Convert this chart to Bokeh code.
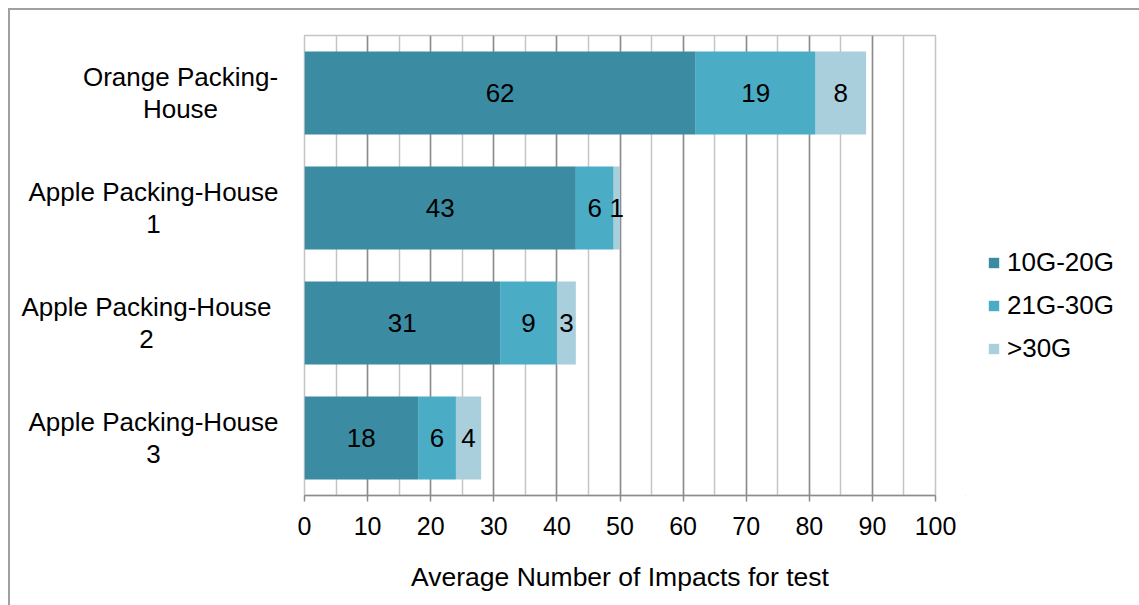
import numpy as np
from bokeh.plotting import figure
from bokeh.layouts import row
from bokeh.models import ColumnDataSource, Range1d, SingleIntervalTicker, Legend, LegendItem
from bokeh.core.properties import value
from bokeh.embed import file_html
from bokeh.resources import INLINE

categories = ["Orange Packing-\nHouse", "Apple Packing-House\n1", "Apple Packing-House\n2", "Apple Packing-House\n3"]
series_names = ["10G-20G", "21G-30G", ">30G"]
g10_20 = [62, 43, 31, 18]
g21_30 = [19, 6, 9, 6]
g30p = [8, 1, 3, 4]
colors = ["#3b8ca2", "#4bacc6", "#a9cfdd"]
label_centers_px = [170, 143, 136, 143]

FONT = "Liberation Sans"
H = 595
TOP = 25
BOTTOM = 110
n = len(categories)
ypos = [n - 1 - i for i in range(n)]  # top to bottom
yr = Range1d(-0.5, n - 0.5)

# ---- category label panel ----
lab = figure(width=274, height=H, output_backend="svg", toolbar_location=None,
             x_range=Range1d(0, 274), y_range=yr,
             min_border_left=0, min_border_right=0, min_border_top=TOP, min_border_bottom=BOTTOM)
lab.axis.visible = False
lab.grid.visible = False
lab.outline_line_color = None
lab.text(x=label_centers_px, y=ypos, text=categories, text_align="center", text_baseline="middle",
         text_font=value(FONT), text_font_size="26px", text_color="#000000", text_line_height=1.05)

# ---- main chart ----
src = ColumnDataSource(dict(y=ypos, a=g10_20, b=g21_30, c=g30p))
p = figure(width=681, height=H, output_backend="svg", toolbar_location=None,
           x_range=Range1d(0, 100), y_range=yr,
           min_border_left=20, min_border_top=TOP, min_border_right=30, min_border_bottom=BOTTOM)
renderers = p.hbar_stack(["a", "b", "c"], y="y", height=0.72, color=colors, line_color=None, source=src)

vals = np.array([g10_20, g21_30, g30p], dtype=float)
cum = np.cumsum(vals, axis=0)
starts = cum - vals
for k in range(3):
    p.text(x=list(starts[k] + vals[k] / 2), y=ypos, text=[str(int(v)) for v in vals[k]],
           text_align="center", text_baseline="middle", text_font=value(FONT),
           text_font_size="26px", text_color="#000000")

p.yaxis.visible = False
p.ygrid.visible = False
ticker = SingleIntervalTicker(interval=10, num_minor_ticks=2)
p.xaxis.ticker = ticker
p.xgrid.ticker = ticker
p.xgrid.grid_line_color = "#8c8c8c"
p.xgrid.grid_line_width = 1.5
p.xgrid.minor_grid_line_color = "#c4c4c4"
p.xgrid.minor_grid_line_width = 1.5
p.xaxis.axis_line_color = "#8c8c8c"
p.xaxis.axis_line_width = 1.5
p.xaxis.major_tick_line_color = "#8c8c8c"
p.xaxis.major_tick_line_width = 1.5
p.xaxis.major_tick_out = 6
p.xaxis.major_tick_in = 0
p.xaxis.minor_tick_line_color = None
p.xaxis.major_label_text_font = FONT
p.xaxis.major_label_text_font_size = "25px"
p.xaxis.major_label_text_color = "#000000"
p.xaxis.major_label_standoff = 15
p.xaxis.axis_label = "Average Number of Impacts for test"
p.xaxis.axis_label_text_font = FONT
p.xaxis.axis_label_text_font_size = "26.5px"
p.xaxis.axis_label_text_font_style = "normal"
p.xaxis.axis_label_text_color = "#000000"
p.xaxis.axis_label_standoff = 24
p.outline_line_color = "#c4c4c4"
p.outline_line_width = 1.5

# ---- legend panel ----
lg = figure(width=174, height=H, output_backend="svg", toolbar_location=None,
            x_range=Range1d(0, 1), y_range=Range1d(0, 1),
            min_border_left=0, min_border_right=0, min_border_top=0, min_border_bottom=0)
lg.axis.visible = False
lg.grid.visible = False
lg.outline_line_color = None
dummies = [lg.hbar(y=[-10], right=[-10], left=[-11], height=0.5, color=colors[k], line_color=None)
           for k in range(3)]
legend = Legend(items=[LegendItem(label=series_names[k], renderers=[dummies[k]]) for k in range(3)],
                location=(22, 131), label_text_font=FONT, label_text_font_size="26px",
                label_text_color="#000000", label_height=26,
                glyph_width=13, glyph_height=13, spacing=12, border_line_color=None,
                background_fill_alpha=0, margin=0, padding=0, label_standoff=7)
lg.add_layout(legend)

layout = row(lab, p, lg, spacing=0,
             styles={"margin-left": "8px", "margin-top": "8px",
                     "border-left": "2px solid #a0a0a0", "border-top": "2px solid #a0a0a0"})

open("out.html", "w").write(file_html(layout, INLINE))
